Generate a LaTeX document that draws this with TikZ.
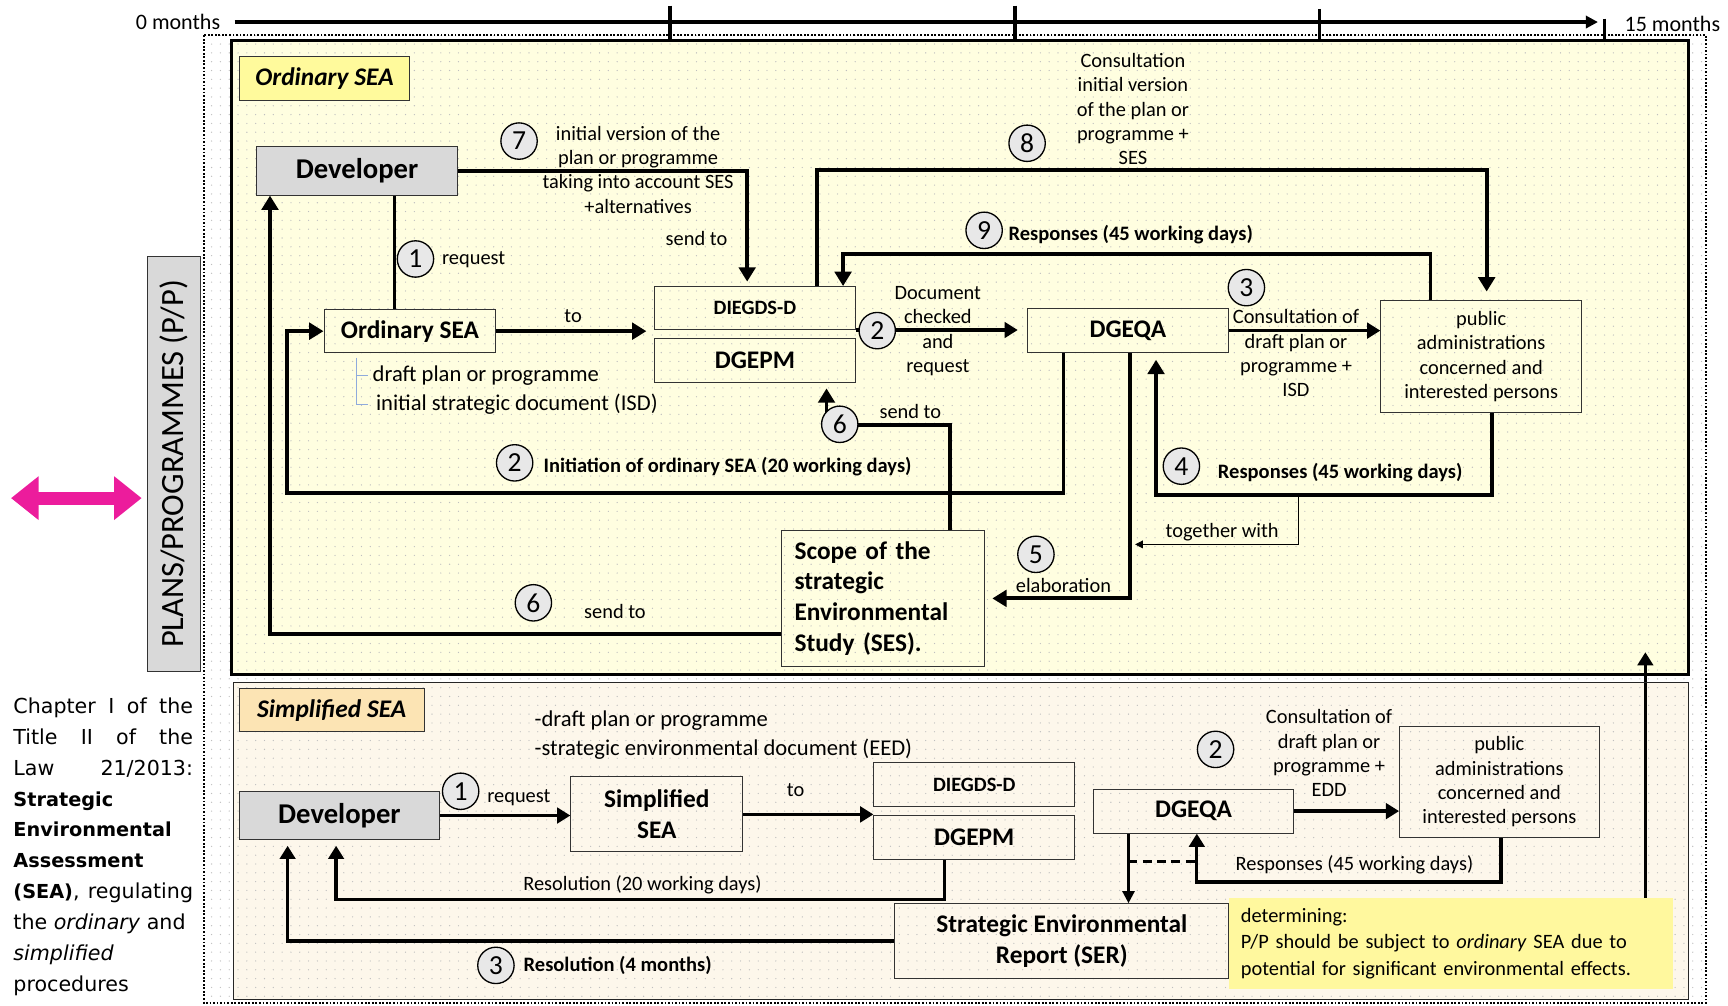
\documentclass[tikz,border=0pt]{standalone}
\usepackage{fontspec}
\setmainfont{Carlito}
\newfontfamily\verdfont{DejaVu Sans}
\definecolor{ordbg}{HTML}{FFFEE0}
\definecolor{simpbg}{HTML}{FDF7EB}
\definecolor{ordtag}{HTML}{FFFA9C}
\definecolor{simptag}{HTML}{FCE4B4}
\definecolor{devgrey}{HTML}{D9D9D9}
\definecolor{numgrey}{HTML}{E8E8E8}
\definecolor{detyellow}{HTML}{FFF89E}
\definecolor{pppink}{HTML}{EC1C9C}
\definecolor{treeblue}{HTML}{8FAADC}
\usetikzlibrary{calc, arrows.meta, patterns.meta, backgrounds}
\newcommand{\fsz}[2]{\fontsize{#1}{#2}\selectfont}
\newcommand{\vbold}[1]{{\fsz{17.5}{28}\bfseries #1}}

\begin{document}
\begin{tikzpicture}[x=1pt, y=-1pt,
  font=\fsz{18.5}{22},
  bx/.style={draw=black!80, line width=0.9pt, inner sep=0pt, align=center},
  tag/.style={bx, font=\fsz{23}{26}\bfseries\itshape},
  num/.style={circle, draw, line width=1.2pt, fill=numgrey, minimum size=33pt,
              inner sep=0pt, font=\fsz{25}{25}},
  lbl/.style={inner sep=1pt, align=center},
  blbl/.style={lbl, font=\fsz{18.6}{22}\bfseries},
  arr/.style={-{Triangle[length=13pt,width=15pt]}, line width=3.5pt},
  arrs/.style={-{Triangle[length=12pt,width=14pt]}, line width=3pt},
  thinarr/.style={-{Triangle[length=7pt,width=7pt]}, line width=0.8pt},
]
\useasboundingbox (0,0) rectangle (1568,912);

% Backgrounds
\begin{scope}[on background layer]
\fill[white] (185,32) rectangle (1548,910);
\fill[ordbg] (210,37) rectangle (1532,612);
\fill[simpbg] (212,619) rectangle (1532,907);
\path[pattern={Dots[distance=8pt, radius=0.6pt]}, pattern color=black!25] (185,32) rectangle (1548,910);
\end{scope}
\draw[line width=1.6pt, dash pattern=on 1.6pt off 1.6pt] (185,32) rectangle (1548,910);
\draw[line width=3pt] (210,37) rectangle (1532,612);
\draw[line width=1.2pt, black!85] (212,619) rectangle (1532,907);

% Timeline
\coordinate (t0) at (213,20);
\coordinate (t15) at (1450,20);
\node[anchor=east, inner sep=0pt, font=\fsz{20}{22}] (m0) at (200,20) {0 months};
\node[anchor=west, inner sep=0pt, font=\fsz{20}{22}] (m15) at (1474,22) {15 months};
\draw[line width=4pt, -{Triangle[length=11pt,width=11pt]}] (t0) -- (t15);
\foreach \x/\y in {608/5, 921/5, 1197/8, 1456/17}
  \draw[line width=3pt] (\x,\y) -- (\x,37);

% Left side
\node[bx, fill=devgrey, rotate=90, minimum width=376pt, minimum height=48pt,
      font=\fsz{29.5}{30}] (pp) at (158,421) {PLANS/PROGRAMMES (P/P)};
\coordinate (magl) at (10,452);
\draw[pppink, line width=12pt, {Triangle[length=25pt,width=38pt]}-{Triangle[length=25pt,width=38pt]}]
  (magl) -- ([xshift=-5pt]pp.north |- magl);
\node[anchor=north west, text width=163pt, align=justify, inner sep=0pt,
      font=\verdfont\fsz{18.7}{28}] (chap) at (12,633)
  {Chapter I of the\linebreak Title II of the\linebreak Law 21/2013:\linebreak
   \vbold{Strategic}\\ \vbold{Environmental}\\ \vbold{Assessment}\\
   \vbold{(SEA)}, regulating\linebreak the \textit{ordinary} and\\
   \textit{simplified}\\ procedures};

% Ordinary SEA
\node[tag, fill=ordtag, minimum width=155pt, minimum height=40pt] (ordtag) at (294.5,71) {Ordinary SEA};
\node[bx, fill=devgrey, minimum width=182pt, minimum height=44pt, font=\fsz{26}{28}\bfseries] (dev1) at (324,155) {Developer};
\node[bx, minimum width=156pt, minimum height=39pt, font=\fsz{23}{26}\bfseries] (ord) at (372,300.5) {Ordinary SEA};
\node[bx, minimum width=182pt, minimum height=39pt, font=\fsz{18.5}{20}\bfseries] (diegds1) at (685,279.5) {DIEGDS-D};
\node[bx, minimum width=182pt, minimum height=40pt, font=\fsz{23}{26}\bfseries] (dgepm1) at (685,327) {DGEPM};
\node[bx, minimum width=183pt, minimum height=40pt, font=\fsz{23}{26}\bfseries] (dgeqa1) at (1023.5,300) {DGEQA};
\node[bx, minimum width=182pt, minimum height=101pt] (pub1) at (1344,323.5) {public\\administrations\\concerned and\\interested persons};
\node[bx, minimum width=184pt, minimum height=124pt, inner xsep=12pt, text width=160pt, align=left,
      font=\fsz{23}{28}\bfseries] (scope) at (801,543) {Scope of the\\strategic\\Environmental\\Study (SES).};

\node[lbl, anchor=west, font=\fsz{20.5}{22}] (draft1) at (337,341) {draft plan or programme};
\node[lbl, anchor=west, font=\fsz{20.5}{22}] (isd1) at (340,367) {initial strategic document (ISD)};

\node[num] (n1) at (377,235) {1};
\node[num] (n7) at (471,128) {7};
\node[num] (n8) at (932,130) {8};
\node[num] (n9) at (893,209) {9};
\node[num] (n2a) at (796,300) {2};
\node[num] (n3) at (1131,261) {3};
\node[num] (n2b) at (467,420) {2};
\node[num] (n6a) at (762,385) {6};
\node[num] (n4) at (1072,423) {4};
\node[num] (n5) at (940,503) {5};
\node[num] (n6b) at (484,547) {6};

\node[lbl, anchor=west] (req1) at (400,236) {request};
\node[lbl] (to1) at (520,287) {to};
\node[lbl] (txt7) at (579,154) {initial version of the\\plan or programme\\taking into account SES\\+alternatives};
\node[lbl] (send7) at (632,216) {send to};
\node[lbl] (txt8) at (1028,99) {Consultation\\initial version\\of the plan or\\programme +\\SES};
\node[blbl, anchor=west] (txt9) at (914,213) {Responses (45 working days)};
\node[lbl] (txtdoc) at (851,300.5) {Document\\checked\\and\\request};
\node[lbl] (txt3) at (1176,320.5) {Consultation of\\draft plan or\\programme +\\ISD};
\node[blbl, anchor=west] (txtinit) at (492,423) {Initiation of ordinary SEA (20 working days)};
\node[blbl, anchor=west] (txt4) at (1104,429) {Responses (45 working days)};
\node[lbl] (txttog) at (1109,483) {together with};
\node[lbl] (txtelab) at (965,531) {elaboration};
\node[lbl] (send6a) at (826,373) {send to};
\node[lbl] (send6b) at (558,555) {send to};

% Simplified SEA
\node[tag, fill=simptag, minimum width=168pt, minimum height=39pt] (simptag) at (301,644.5) {Simplified SEA};
\node[bx, fill=devgrey, minimum width=182pt, minimum height=44pt, font=\fsz{26}{28}\bfseries] (dev2) at (308,740) {Developer};
\node[bx, minimum width=156pt, minimum height=68pt, font=\fsz{23}{28}\bfseries] (simp) at (596,739) {Simplified\\SEA};
\node[bx, minimum width=182pt, minimum height=40pt, font=\fsz{18.5}{20}\bfseries] (diegds2) at (884,712) {DIEGDS-D};
\node[bx, minimum width=182pt, minimum height=40pt, font=\fsz{23}{26}\bfseries] (dgepm2) at (884,760) {DGEPM};
\node[bx, minimum width=182pt, minimum height=40pt, font=\fsz{23}{26}\bfseries] (dgeqa2) at (1083,736) {DGEQA};
\node[bx, minimum width=181pt, minimum height=101pt] (pub2) at (1360.5,709.5) {public\\administrations\\concerned and\\interested persons};
\node[fill=detyellow, minimum width=403pt, minimum height=82pt, inner xsep=11pt, text width=381pt,
      align=left, font=\fsz{18.5}{24}] (det) at (1316.5,856)
  {determining:\\P/P should be subject to \textit{ordinary} SEA due to\\potential for significant environmental effects.};
\node[bx, minimum width=303pt, minimum height=68pt, font=\fsz{23}{28}\bfseries] (ser) at (963.5,854) {Strategic Environmental\\Report (SER)};

\node[num] (s1) at (418,718) {1};
\node[num] (s2) at (1103,680) {2};
\node[num] (s3) at (450,876) {3};

\node[lbl, anchor=west, align=left, font=\fsz{20.5}{26}] (draft2) at (484,667) {-draft plan or programme\\-strategic environmental document (EED)};
\node[lbl, anchor=west] (req2) at (441,724) {request};
\node[lbl] (to2) at (722,717) {to};
\node[lbl] (txt2s) at (1206,683.5) {Consultation of\\draft plan or\\programme +\\EDD};
\node[lbl] (txtresp2) at (1229,785) {Responses (45 working days)};
\node[lbl] (txtres20) at (583,803) {Resolution (20 working days)};
\node[blbl, anchor=west] (txtres4) at (474,876) {Resolution (4 months)};

\coordinate (tw) at (1178,450);
\coordinate (twend) at (1030,494);

% Connectors
\begin{scope}[on background layer]
\draw[line width=3.5pt] ([xshift=34pt]dev1.south) -- ([xshift=34pt]dev1.south |- ord.north);
\draw[treeblue, line width=0.8pt] ([xshift=-49pt]ord.south) ++(0,4) |- ([xshift=-6pt]isd1.west);
\draw[treeblue, line width=0.8pt] ([xshift=-49pt]ord.south |- draft1.west) -- ([xshift=-3pt]draft1.west);
\draw[arr, shorten >=7pt] (ord.east) -- (ord.east -| diegds1.west);
\draw[arr, shorten >=4pt] (dev1.east) -| ([xshift=-7pt]diegds1.north);
\draw[arr, shorten >=8pt] ([xshift=56pt]diegds1.north) -- ++(0,-105) -| ([xshift=5pt]pub1.north);
\draw[arr] ([xshift=-46pt]pub1.north) -- ++(0,-42) -| ([xshift=80pt]diegds1.north);
\draw[arrs, shorten >=8pt] (diegds1.south east) -- (diegds1.south east -| dgeqa1.west);
\draw[arrs] (dgeqa1.east) -- (dgeqa1.east -| pub1.west);
\draw[arr] ([xshift=-58.5pt]dgeqa1.south) -- ++(0,127) -| ([xshift=-33pt]ord.west) -- (ord.west);
\draw[arr, shorten >=6pt] ([xshift=10pt]pub1.south) -- ++(0,75) -| ([xshift=25.5pt]dgeqa1.south);
\draw[thinarr] (tw) |- (twend);
\draw[arr, shorten >=7pt] ([xshift=1.5pt]dgeqa1.south) |- (scope.east);
\draw[arr, shorten >=5pt] ([xshift=61pt]scope.north) -- ++(0,-95) -| ([xshift=65pt]dgepm1.south);
\draw[arr] ([yshift=-32pt]scope.west) -| ([xshift=-79pt]dev1.south);

\draw[arrs] (dev2.east) -- (dev2.east -| simp.west);
\draw[arrs] (simp.east) -- (simp.east -| dgepm2.west);
\draw[arrs, shorten >=5pt] ([xshift=-27pt]dgepm2.south) -- ++(0,36) -| ([xshift=-3pt]dev2.south);
\draw[arrs, shorten >=5pt] (ser.west) -| ([xshift=-47pt]dev2.south);
\draw[arrs] (dgeqa2.east) -- (dgeqa2.east -| pub2.west);
\draw[arrs] ([xshift=1.5pt]pub2.south) -- ++(0,40) -| ([xshift=3pt]dgeqa2.south);
\draw[-{Triangle[length=11pt,width=11pt]}, line width=2.2pt] ([xshift=-59pt]dgeqa2.south) -- ([xshift=-59pt]dgeqa2.south |- ser.north);
\path ([xshift=-59pt]dgeqa2.south) ++(0,25) coordinate (dl);
\path ([xshift=3pt]dgeqa2.south) ++(0,25) coordinate (dr);
\draw[line width=3pt, dash pattern=on 8pt off 5pt] (dl) -- (dr);
\draw[arrs] ([xshift=176.5pt]det.north) -- ++(0,-223);
\end{scope}

\end{tikzpicture}
\end{document}
